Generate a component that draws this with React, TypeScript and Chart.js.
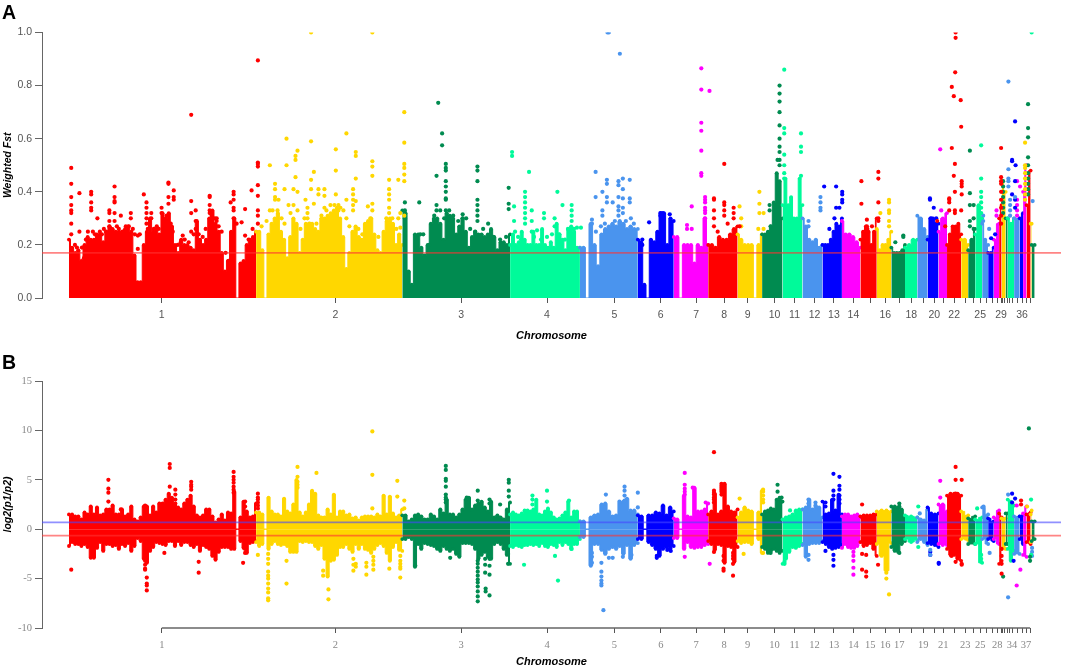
import { useEffect, useRef } from 'react';
import { Chart, registerables } from 'chart.js';

Chart.register(...registerables);

// chromosome limits along the genome axis (39 edges, 38 chromosomes)
const chromEdges = [0, 187.5, 334, 442, 512, 570, 606, 640.5, 670, 694.5, 715, 735, 755, 774.5, 793, 809.4, 824, 837.7, 850, 860.3, 871.3, 879.8, 894, 901, 908, 915, 921, 926.6, 932, 934.5, 938.6, 940.6, 947, 952.6, 956, 959.5, 963.6, 964.6, 967.6];
const tickPos = [93, 267, 393, 479, 546.5, 593, 628.5, 656.5, 680, 707, 727, 747, 766.5, 786, 803, 818, 832, 844, 856, 867, 876, 887, 898, 906, 913, 919, 925, 930, 934, 935, 937, 940, 942, 945, 950, 955, 959, 963];
const fstLabels = ['1', '2', '3', '4', '5', '6', '7', '8', '9', '10', '11', '12', '13', '14', '', '16', '', '18', '', '20', '', '22', '', '', '25', '', '', '', '29', '', '', '', '', '', '', '36', '', ''];
const logLabels = ['1', '2', '3', '4', '5', '6', '7', '8', '9', '10', '11', '12', '13', '14', '15', '16', '17', '', '19', '', '21', '', '23', '', '25', '', '', '28', '', '', '', '', '', '34', '', '', '37', ''];

const RED = '#ff0000';
const GOLD = '#ffd700';
const GREEN = '#008b50';
const AQUA = '#00fa9a';
const SKY = '#4a94ee';
const BLUE = '#0000ff';
const PINK = '#ff00ff';
const chromColors = [RED, GOLD, GREEN, AQUA, SKY, BLUE, PINK];

// dense mass of Weighted Fst, top edge of each chromosome
const fstTop = [
  [.22, .19, .17, .18, .14, .2, .23, .22, .22, .24, .24, .21, .25, .27, .26, .25, .25, .25, .26, .27, .25, .16, .06, .06, .2, .25, .3, .25, .26, .24, .32, .3, .32, .27, .2, .17, .22, .2, .2, .19, .18, .29, .22, .2, .22, .3, .33, .28, .25, .17, .1, .14, .25, .3, 0, .13, .14, .2, .22, .23, .25],
  [.25, .25, .18, 0, .24, .28, .3, .32, .25, .22, .15, .23, .3, .28, .17, .22, .28, .28, .28, .26, .25, .3, .3, .31, .32, .33, .34, .3, .23, .11, .17, .25, .27, .23, .22, .28, .29, .3, .24, .18, .17, .25, .29, .3, .28, .2, .24, .2],
  [.33, .32, .1, .05, .24, .24, .19, .16, .2, .28, .3, .3, .28, .22, .32, .31, .3, .24, .27, .3, .25, .19, .23, .25, .24, .24, .23, .24, .26, .23, .18, .21, .21, .2, .24],
  [.2, .24, .2, .21, .25, .22, .2, .2, .25, .2, .2, .26, .2, .19, .21, .19, .28, .24, .22, .18, .26, .27, .25, .19, .19],
  [.19, .19, 0, .28, .2, .12, .24, .26, .27, .28, .27, .29, .28, .26, .27, .26, .26],
  [.22, .21, .05, 0, .22, .21, .25, .32, .32, .2, .3, .29],
  [.23, .23, 0, .2, .2, .2, .13, .2, .19, .3, .2],
  [.2, .2, .19, .23, .22, .22, .24, .26, .27],
  [.24, .22, .2, .2, .2, 0, .2, .24],
  [.24, .24, .25, .27, .36, .47, .44, .3],
  [.35, .45, .35, .38, .3, .3, .45, .35],
  [.3, .27, .22, .21, .22, .19, .2],
  [.2, .2, .2, .22, .25, .28, .27, .3],
  [.29, .24, .24, .23, .21, .19],
  [.22, .25, .27, .25, .2, .25, .3],
  [.26, .18, .2, .2, .22, .25],
  [.19, .17, .17, .17, .18, .2],
  [.19, .2, .22, .22],
  [.31, .3, .26, .23],
  [.22, .3, .3, .28, .28],
  [.25, .3, .32],
  [.2, .24, .27, .27, .28, .24],
  [.22, .22, .2],
  [.18, .22, .26],
  [.24, .35, .3],
  [.28, .22, .2],
  [.17, .17, .19],
  [.22, .28],
  [.3, .35],
  [.44, .4],
  [.3, .3],
  [.3, .28, .3],
  [.3, .3],
  [.3, .32],
  [.4, .5],
  [.35, .48],
  [.28, .28],
  [.2, .2],
];

// isolated Fst dots, [position, values at that position], one list per colour
const fstRed: [number, number[]][] = [
  [2.3, [.49, .43, .38, .35, .33, .32, .28, .24]], [10.5, [.395, .25]], [22.3, [.4, .39, .36, .34, .33]], [28.5, [.3]], [40.5, [.33, .32, .29, .27]],
  [45.7, [.42, .38, .365, .36, .32, .29]], [52, [.31]], [62, [.32, .3]], [69, [.235, .185]], [75, [.39]], [77.7, [.36, .34, .32, .3, .28]],
  [82.5, [.32, .3]], [92.8, [.34, .32]], [99.7, [.435, .43, .38, .355]], [105, [.38, .37, .405]], [114, [.235]], [122.5, [.69, .365, .32, .25]],
  [127, [.33, .29, .26]], [141, [.385, .38, .35, .33, .32]], [148, [.3, .29]], [162, [.36]], [165, [.4, .39, .37, .34, .33, .3]], [173, [.285]],
  [176.5, [.335, .235]], [183, [.405]], [189.3, [.895, .51, .505, .495, .425, .385, .33, .31, .28]],
  [646.3, [.375, .37, .33, .3, .27]], [656.6, [.505, .36, .35, .33, .31]], [666, [.34, .32, .3]], [794, [.44, .355]], [799.5, [.295, .27]],
  [804.6, [.27]], [811, [.475, .45, .36, .3, .29]], [888.4, [1, .98]], [888, [.85]], [884.6, [.795, .565]], [886.6, [.76, .46]], [893.5, [.745]],
  [894, [.645, .33]], [887.7, [.505, .4, .33, .32]], [894.5, [.44, .43, .42, .39]], [882, [.375, .37, .36, .33]], [878, [.27]],
  [934, [.565, .455, .44, .43, .4, .37, .34, .31, .28]],
  // rough scatter just above the solid mass
  [6, [.2]], [8, [.19]], [13, [.19]], [15, [.15]], [17, [.22]], [19, [.25]], [24, [.25]], [26, [.24]], [29, [.22]], [31, [.25]], [33, [.24]], [35, [.26]], [37, [.25]], [42, [.26]],
  [48, [.27]], [50, [.26]], [54, [.25]], [57, [.27]], [60, [.27]], [64, [.26]], [66, [.24]], [71, [.24]], [79, [.26]], [83, [.24]], [85, [.26]], [88, [.27]], [90, [.26]], [95, [.29]],
  [98, [.31]], [102, [.28]], [104, [.25]], [109, [.2]], [112, [.21]], [116, [.22]], [120, [.21]], [125, [.24]], [130, [.24]], [134, [.23]], [137, [.26]], [143, [.31]], [146, [.3]],
  [150, [.27]], [153, [.25]], [157, [.17]], [160, [.14]], [168, [.28]], [180, [.22]], [184, [.26]], [650, [.25]], [660, [.28]], [672, [.27]], [800, [.26]], [870, [.29]],
];
const fstGold: [number, number[]][] = [
  [201.3, [.5, .33]], [206.5, [.43, .41, .38, .37]], [210, [.37]], [216, [.41, .28]], [218, [.6, .5]], [220, [.35]], [227, [.52, .535, .455]], [229, [.555, .4, .33]],
  [225, [.41, .35]], [237, [.37]], [239, [.34, .32, .3]], [242.6, [1, .59, .445, .41]], [245.4, [.475, .355]], [250, [.41, .39]], [256, [.41, .385, .34]],
  [267.4, [.56, .48, .39]], [270, [.35, .33]], [278, [.62, .37, .3]], [284.7, [.41, .39, .37, .35, .33]], [287.4, [.55, .535, .45, .365]], [299.5, [.345]],
  [304, [1, .515, .495, .46, .355, .33]], [320.8, [.445, .41, .39, .37, .34, .32]], [330, [.445, .3]], [332, [.32, .265]], [336, [.7, .585, .505, .49, .465, .44, .31]],
  [671.9, [.345]], [673.6, [.3, .27]], [691.8, [.4, .355, .32]], [696, [.32, .26]], [690.7, [.26]], [821.7, [.37, .36, .33, .32, .29, .27]], [813, [.32]],
  [958, [.585, .5, .49, .47, .45, .43, .41, .39, .37]],
  [193, [.27]], [198, [.29]], [204, [.33]], [209, [.33]], [213, [.3]], [222, [.32]], [232, [.26]], [236, [.3]], [241, [.28]], [248, [.28]], [253, [.31]], [258, [.33]], [262, [.35]],
  [266, [.35]], [272, [.34]], [275, [.33]], [281, [.27]], [290, [.26]], [294, [.24]], [302, [.3]], [310, [.23]], [318, [.3]], [324, [.3]], [328, [.26]],
];
const fstGreen: [number, number[]][] = [
  [336.6, [.36, .33, .32, .3]], [351, [.36]], [368.3, [.46, .35, .33]], [370, [.735]], [373.9, [.62, .575]], [377.6, [.505, .49, .48, .44, .42, .4, .375, .37, .33]],
  [394.5, [.315, .3]], [409.3, [.495, .48, .44, .37, .35, .33, .31, .29]], [420, [.28]], [440.6, [.415, .355, .335]],
  [702, [.35, .33]], [703, [.27]], [712, [.8, .77, .74, .7, .65, .6, .57, .55, .52, .5]], [710, [.52]], [828, [.21]], [836, [.235, .23]],
  [902.7, [.555, .395, .35, .29, .27]], [906.5, [.35, .3, .26]], [936, [.44, .42, .4, .38, .36, .34, .32]], [961, [.73, .64, .605, .53, .5, .47, .45, .43, .41, .39]],
  [352, [.24]], [355, [.24]], [361, [.2]], [366, [.31]], [372, [.33]], [376, [.3]], [381, [.33]], [385, [.31]], [390, [.29]], [398, [.3]], [402, [.26]], [407, [.25]], [415, [.26]],
  [425, [.23]], [432, [.22]], [438, [.23]],
];
const fstAqua: [number, number[]][] = [
  [444, [.55, .535]], [446, [.345, .29]], [457, [.4, .38, .36, .34, .32, .3, .28]], [461, [.475]], [463.7, [.33, .29, .25]], [469, [.255]], [476, [.32, .3]],
  [486.6, [.3, .27]], [489.4, [.4]], [494.5, [.35]], [503.7, [.35, .33, .31, .29]], [509, [.265]], [513, [.265]],
  [716.7, [.86, .64, .62, .54, .5, .47, .45]], [733.5, [.62, .57, .55, .46]], [914, [.575, .45, .4, .38, .36, .34, .32, .3]], [964.6, [1]],
  [447, [.25]], [450, [.23]], [453, [.22]], [466, [.23]], [473, [.22]], [479, [.23]], [484, [.24]], [491, [.24]], [497, [.22]], [500, [.26]], [506, [.26]],
];
const fstSky: [number, number[]][] = [
  [524, [.295, .28]], [527.7, [.475, .38]], [534.5, [.4, .33, .31]], [539, [.445, .43, .38, .36]], [539.6, [1]], [541, [1]], [544.8, [.36]],
  [550.6, [.44, .425, .38, .345, .33, .31]], [552, [.92]], [555, [.45, .41, .375, .34, .32]], [561.9, [.445, .375, .36]], [563, [.3]],
  [741, [.29, .27]], [753, [.38, .36, .34, .33]], [916, [.31, .29]], [922, [.26]], [941.3, [.815, .485, .45, .44, .42]], [943, [.37, .35, .33, .31]],
  [948, [.38]], [965.6, [.365]],
  [528, [.25]], [533, [.27]], [537, [.28]], [547, [.29]], [558, [.29]], [566, [.28]],
];
const fstBlue: [number, number[]][] = [
  [574.5, [.22, .2]], [581.3, [.285]], [592.6, [.32, .31]], [595, [.32]], [602, [.315]], [756.7, [.42]], [768.7, [.42, .34]], [767, [.3]],
  [774.8, [.4, .39, .37, .36]], [772, [.34]], [761.9, [.26]], [862.7, [.375, .37]], [866.5, [.34]], [864, [.3]], [869, [.3]], [928, [.24]], [924, [.225]],
  [948, [.665, .44, .37, .34]], [945, [.52, .515, .39]], [948.5, [.5]],
];
const fstPink: [number, number[]][] = [
  [619.3, [.275, .26]], [624, [.345, .26]], [633.6, [.865, .785, .66, .63, .555, .47, .46]], [641.8, [.78]], [637.4, [.38, .37, .36, .34, .33, .32, .3]],
  [873, [.56]], [874, [.33]], [929.4, [.33, .31]], [950, [.44, .37, .35, .33, .31]], [953, [.42]],
];
const fstLine = 0.17;

// dense mass of log2(p1/p2), upper and lower edge of each chromosome
const logTop = [
  [1.5, 1.5, 1.3, 1.3, 1, 1.7, 1.5, 2.3, 1.5, 2.2, 1.4, 1.5, 2, 2, 2.4, 1.5, 1.5, 2, 1.3, 1.5, 2.3, 1, .8, 1.2, 2.3, 2.3, 1.4, 2.3, 1.7, 2.6, 2.6, 3, 3.6, 3.2, 2.5, 2.2, 2, 2.6, 3, 3.4, 2.3, 1.4, 1.2, 1.4, 2, 2, 1.3, .7, 1, 1.5, .9, 1.7, 1.6, 3.8, 0, 1.2, 2.8, 1.8, 1.2, 1.3, 2.6],
  [1.7, 1.7, 1.5, 0, 3.2, 1.8, 1.5, 1.5, 1.3, 3.1, 1.8, 1.6, 2.5, 5, 1.7, 1.3, 1.7, 2.5, 3.9, 3.6, 1.4, 1.2, 1.2, 2, 1.5, 3.5, 1.2, 1.8, 1.8, 1.4, 1.5, 1.1, 1.2, .9, 1.2, 1.3, 1.3, 1.3, 1.2, 1.5, 1.3, 3.4, 1.5, 3.3, 1.6, 1.2, 1.4, 2],
  [1.4, 1.4, .8, 1, 1.4, 1.5, 1.3, 1, 1, 1.5, 1.3, 1, 2, 1.6, 3, 1.5, 1.5, 1.2, 1.5, 2, 3, 3.2, 2, 2.4, 2.6, 2.8, 2.2, 1.8, 2.8, 1.2, 1.4, 1.2, 1, 2, 2.7],
  [1.5, 1.7, 1.5, 1.4, 1.6, 1.9, 1.9, 1.8, 2, 3, 1.5, 1.4, 1.8, 2.1, 1.7, 1.2, 1, 1.1, 1.4, 1.7, 2.8, 1.2, 1.8, 1.8, .8],
  [.8, .8, 0, 1.2, 1.4, 1.5, 2.5, 2.6, 1.8, 1.3, 1.4, 2.7, 2.8, 3.1, 1.9, 1.9, 1.5],
  [1.4, 1.3, 0, 1.4, 1.4, 1.7, 1.6, 2.4, 1.4, 2.2, 1.8],
  [1.1, 1, 0, 3.4, 1.3, 1.2, 4.2, 1.8, 1.8, 2, 2.6],
  [1.5, 1.8, 3.6, 1.5, 1.8, 4.6, 2.3, 1.8, 1.7, 2],
  [1.2, 1.7, 2.2, 1.9, 1.8, 0, 1.7, 3.9],
  [1.5, 1.8, 1.9, 2.1, 2, 3, 3.2, 2.8],
  [1, 1.2, 1.3, 1.5, 1.9, 2, 2],
  [2, 2.2, 3, 2, 2.3, 2.2, 1.2],
  [2.8, 1.5, 1.6, 3, 1.9, 3.5, 1.5],
  [1.3, 1.5, 1.5, 1.3, 1.4, 1.5, 1.2],
  [1.3, 1.4, 1.4, 1.4, 1.5, 1.5],
  [1.8, 1.9, 1.9, 1.8],
  [2.3, 2.3, 2.2, 2, 1.2],
  [1.4, 1.3, 1.2],
  [1.2, 1, .9, 2],
  [2.2, 1.6, 1.5, 1.6],
  [2.5, 2.5, 1.8],
  [3.4, 3.6, 3.6, 3.6, 3.4],
  [1.8, 1.4],
  [1.1, 1.3],
  [1, 1.2],
  [2.2, 1.5],
  [1.1, .8],
  [1.2, 1.9],
  [1.6, 1.2],
  [1.1, 1.1],
  [1.6, 1.6],
  [3, 2.8, 2.4],
  [1.3, 1.3],
  [1.3, 1.4],
  [1.6, 2.3],
  [1.5, 1.7],
  [1.5, 1.9],
  [.8, .8],
];
const logBottom = [
  [-1.7, -1.3, -1.5, -1.5, -1.7, -1.5, -1.8, -2.9, -2.9, -1.9, -1.3, -2.2, -1.5, -1.5, -1.7, -1.6, -2, -1.5, -1.7, -1.4, -2.2, -1.7, -.9, -1.2, -3, -3.4, -2.2, -1.8, -1.3, -1.4, -1.5, -1.6, -1.2, -1.2, -1.7, -1.2, -1.6, -1.3, -1.3, -1.6, -1.8, -1.5, -2.2, -1.6, -1.8, -2, -2.7, -3.1, -2.3, -1.8, -1.8, -1.8, -2, -2, 0, -1.2, -1.9, -2.4, -1.4, -1.3, -1.2],
  [-1.3, -1.7, -1.5, 0, -2, -1.5, -1.2, -1.5, -1.6, -1.5, -1.7, -2.3, -2.3, -2.3, -1.2, -1.3, -1.2, -1.3, -1.3, -1.7, -2, -1.6, -3, -4.8, -3.2, -3.1, -2.6, -1.8, -1.8, -1.5, -2, -2.3, -1.5, -2, -1.5, -2, -2.1, -2.4, -2, -1.6, -1.4, -1.7, -2.4, -3.2, -1.8, -1.3, -2.1, -2.2],
  [-1, -1, -.8, -1, -3.8, -1.5, -2, -1.4, -1.5, -1.6, -1.7, -2, -2.2, -1.7, -2, -2.2, -2, -2.5, -2.8, -1.4, -1.4, -1.4, -1.5, -2, -3, -2.6, -2.3, -2.8, -3, -1.5, -1.3, -1.5, -2, -2.6, -3.5],
  [-1.7, -1.8, -1.6, -1.7, -1.8, -1.6, -1.6, -1.5, -1.6, -1.5, -1.7, -1.4, -1.7, -1.8, -1.5, -1.6, -1.8, -1.3, -1.6, -1.3, -1.5, -2, -1.5, -1.5, -1],
  [-.8, -.8, 0, -3.7, -1.5, -1.5, -2.1, -2.5, -2, -1.8, -2, -1.7, -2.5, -1.6, -3, -1.6, -1.4],
  [-1, -1, 0, -1.3, -1.6, -2, -2.7, -2, -1.8, -2, -1.7],
  [-.9, -.9, 0, -2, -1.3, -1.8, -1.9, -1.8, -1.8, -1.6, -1.5],
  [-1.2, -1.5, -2.1, -1.5, -1.6, -3.4, -1.7, -1.8, -3.3, -1.8],
  [-1.2, -1.4, -1.3, -1.3, -1.5, 0, -1, -2.4],
  [-1.8, -2, -2.4, -2.2, -2, -2.2, -2.4, -2.2],
  [-3.5, -3, -2.3, -1.8, -1.9, -1.7, -1.5],
  [-1.6, -2.8, -1.5, -1.4, -1.4, -1.4, -1.2],
  [-1.3, -1.5, -1.8, -2, -1.9, -1.8, -1.6],
  [-1.9, -1.5, -1.8, -1.9, -1.9, -1.7, -1.3],
  [-1.3, -1.7, -1.6, -1.4, -2, -2.7],
  [-1.5, -2.7, -4.2, -1.4],
  [-1.8, -2.2, -2.3, -1.5, -1.2],
  [-1, -1.3, -1.1],
  [-1.3, -1, -1.3, -1.6],
  [-1.4, -1.5, -1.6, -1.8],
  [-1.5, -1.6, -1.6],
  [-2, -2.6, -2.6, -3, -3.2],
  [-1, -1.1],
  [-1.5, -1.5],
  [-1.5, -3.4],
  [-1, -1.5],
  [-1, -1.2],
  [-1, -1.5],
  [-3.5, -3.2],
  [-2, -2],
  [-1.5, -1.5],
  [-2, -3.2, -2.2],
  [-2.5, -2.5],
  [-1, -1.5],
  [-2.6, -2.8],
  [-1.3, -1.5],
  [-1.3, -1.2],
  [-1.2, -1],
];

// isolated log ratio dots
const logRed: [number, number[]][] = [
  [2.3, [-4.1]], [39.5, [5, 4.1, 3.7, 2.8]], [52, [2]], [76.3, [-2.8, -3.2, -3.6, -4, -4.1, 2.4]], [78, [-4.9, -5.5, -5.7, -6.2]], [95.6, [-2.4]], [101, [6.6, 6.2, 4.3]],
  [106.6, [4, 3.5, 3, 2.6]], [122.5, [4.8, 4.5, 4.3, 4]], [130, [-3.3, -4.4]], [165, [5.8, 5.3, 5, 4.7, 4.3, 4, 3.7]], [174.5, [-3.4]], [176.5, [2.8, 2.3, -2, -2.4]],
  [189.3, [3.6, 3.2, 3, 2.7, 2.4, 2.1]], [646.3, [7.8, 3.9, 3.7, 3.5, 3.2, 3, 2.7, -2.3]], [653.8, [4.6, 4.4, 4.2, 4, 3.8, 3.5]], [655.9, [-2.7, -3.2, -4, -4.2]],
  [665.4, [-4.7, -3.5, -3, -2.7, -2.4]], [888.4, [6.3, 5, 3.6, -3.3]], [894.5, [5, -3.5, -3.6]], [884.3, [-2.7]], [794.7, [2.5, -4.1, -2.5]], [798.8, [-4.3, -4.8, -2.6]],
  [810.7, [-3.6]], [934.5, [-4.5, -3.5, -2.7, -2]], [954, [2.9, 2.5]],
];
const logGold: [number, number[]][] = [
  [229, [6.3, 5.3, 4.8, 4.5, 4.2]], [248, [5.7]], [304, [9.9, 5.5, 2.1]], [329, [4.9, 3.3]], [332, [-2.7, -3.2, -3.5, -3.8, -4, -4.9]], [336, [2.9, 2.1]],
  [199.6, [-2.5, -3, -3.5, -4.3, -4.7, -5, -5.5, -6, -6.4, -7, -7.2]], [189.3, [-2.6]], [218, [-3.2, -5.5]], [254.7, [-4.2, -4.7]], [260, [-6.1, -7.1]], [285, [-3, -3.6, -4.2]],
  [287.4, [-3.5, -3.8]], [298, [-3.4, -3.8, -4.6]], [305, [-2.8, -3.2, -3.6, -4.1]], [321, [-4]], [672, [3.1]], [676, [-2.5]], [695.5, [4, 3.8, 3.4, 3, 2.7, -2.4]],
  [821.7, [-6.6]], [819, [-5, -4.4, -3.9, -3.5]], [960, [2.3]],
];
const logGreen: [number, number[]][] = [
  [377.6, [6.4, 6, 5.1, 4.9, 4.3, 3.5, 3.2, 3, 2.7]], [409.6, [-7.3, -6.8, -6.3, -5.8, -5.4, -5.1, -4.7, -4.3, -3.9, -3.5, -3.2, 3.9, 2.9]], [417, [-3, -3.6, -4.4]],
  [421.4, [-6.7, -4.6, -3.7, -3, 3, 2.6]], [417.5, [-6.3, -6]], [440.7, [5, 4.7, 3.9, 3.3]], [347, [-3.7]], [382, [-2.9]], [398.6, [3.2]], [432, [2.5]], [440, [-2.5, -3.5]],
  [710, [4.5, 3.8]], [714, [3.2, 2.8]], [703, [-2.4]], [832, [2.6, 2.3, -2.4]], [961.8, [10.2]], [963, [-3.2, -2.8]], [936, [-4.8]],
];
const logAqua: [number, number[]][] = [
  [464.4, [3.4, 3, 2.5]], [456, [-3.6]], [479, [3.9, 2.8]], [487, [-2.7]], [490, [-5.2]], [501, [2.9]], [503.7, [-2]], [717, [-3.5, -3.3]], [722.5, [1.9]], [851, [2.3, -1.8]],
  [914, [-2.6, -3, -3.3]], [910, [2.1]], [964, [3, -2.6]],
];
const logSky: [number, number[]][] = [
  [524, [-3.4, -2.8, -2.4]], [538, [3.5]], [556.7, [4.3, 3.9, 3.4, 2.9]], [551.6, [2.8]], [570, [3.7, 2.2]], [533.5, [-3.4, -4.3, -4.8, -5.2, -5.5, -5.7]], [535.5, [-8.2]],
  [541, [-2.9]], [544.8, [-2.9]], [555, [-2.8]], [563.6, [-2.6]], [741, [3, 2.6, -3.1, -2.6]], [748, [2.7, 2.4]], [852.5, [1.6]], [941, [-6.9, 3.5]], [922.5, [-2.4]], [916.4, [2.3]],
  [965, [-1.9, -2.3, -2.7]], [863, [-2.1, -2.6]],
];
const logBlue: [number, number[]][] = [
  [589, [-2.7, -2.9]], [599.5, [-2.1]], [603, [-2.2]], [766, [5.6, 3.9, 3.4, 3, -2.6, -3.1, -3.7]], [772, [5.3, 4.4, 4, 3.4, 3, 2.6]], [758, [2.7, 2.3, -2.2]], [871.5, [-3.4, -3.5]],
  [863, [-2.3, -2.6]], [945, [3.6, 2.7]], [948, [3.1]], [946.5, [-3.2]],
];
const logPink: [number, number[]][] = [
  [617, [5.7, 4.5, 4.1, 3.8, 3.5, -2.8]], [625, [4.2]], [638, [2.7]], [642, [-3.5]], [786, [-2.3, -2.7, -3.2, -3.9, -4.6]], [873, [4.9, 3.2]], [949.6, [-5.7, 2.4]], [953.3, [-4.1]],
];
const logUpperLine = 0.7;
const logLowerLine = -0.65;

const xMin = -27;
const xMax = 994;

// spread one chromosome's edge values evenly across its span
function massDataset(values: number[], chr: number, radius: number) {
  const start = chromEdges[chr];
  const end = chromEdges[chr + 1];
  const color = chromColors[chr % chromColors.length];
  return {
    type: 'line' as const,
    data: values.map((v, i) => ({ x: start + ((end - start) * i) / (values.length - 1), y: v })),
    borderColor: color,
    backgroundColor: color,
    borderWidth: 1,
    stepped: 'middle' as const,
    fill: 'origin',
    pointRadius: values.map(v => (v === 0 ? 0 : radius)),
    pointBorderWidth: 0,
    order: 200 - chr,
  };
}

function dotDatasets(groups: [number, number[]][][], radius: number) {
  return groups.map((group, i) => ({
    type: 'scatter' as const,
    data: group.flatMap(([x, ys]) => ys.map(y => ({ x, y }))),
    backgroundColor: chromColors[i],
    borderColor: chromColors[i],
    pointRadius: radius,
    pointBorderWidth: 0,
    showLine: false,
    order: 20 + i,
  }));
}

function hLine(y: number, color: string) {
  return {
    type: 'line' as const,
    data: [{ x: xMin, y }, { x: xMax, y }],
    borderColor: color,
    borderWidth: 1.8,
    pointRadius: 0,
    fill: false,
    order: 1,
  };
}

function buildOptions(cfg: {
  yMin: number; yMax: number; step: number; yTitle: string; yDecimals: number;
  labels: string[]; topPad: number; xHeight: number; tickFont: any; tickColor: string;
  labelPad: number; titleBottom: number; titleFont: any;
}) {
  return {
    responsive: false,
    animation: false as const,
    devicePixelRatio: 1,
    events: [],
    layout: { padding: { top: cfg.topPad, right: 2, left: 0, bottom: 0 } },
    plugins: { legend: { display: false }, tooltip: { enabled: false } },
    scales: {
      x: {
        type: 'linear' as const,
        min: xMin,
        max: xMax,
        afterBuildTicks: (s: any) => { s.ticks = tickPos.map(value => ({ value })); },
        afterFit: (s: any) => { s.height = cfg.xHeight; },
        border: { display: false },
        grid: { drawOnChartArea: false, drawTicks: true, tickLength: 5, color: '#555' },
        ticks: {
          autoSkip: false,
          maxRotation: 0,
          padding: cfg.labelPad,
          color: cfg.tickColor,
          font: cfg.tickFont,
          callback: (_v: any, i: number) => cfg.labels[i],
        },
        title: {
          display: true,
          text: 'Chromosome',
          color: '#000',
          font: cfg.titleFont,
          padding: { top: 0, bottom: cfg.titleBottom },
        },
      },
      y: {
        min: cfg.yMin,
        max: cfg.yMax,
        afterFit: (s: any) => { s.width = 42; },
        border: { display: true, color: '#666', width: 1 },
        grid: { drawOnChartArea: false, drawTicks: true, tickLength: 7, color: '#666' },
        ticks: {
          stepSize: cfg.step,
          padding: 3,
          color: cfg.tickColor,
          font: cfg.tickFont,
          callback: (v: any) => Number(v).toFixed(cfg.yDecimals),
        },
        title: {
          display: true,
          text: cfg.yTitle,
          color: '#000',
          font: { family: 'Liberation Sans', size: 10.5, weight: 'bold' as const, style: 'italic' as const },
          padding: { top: 2, bottom: 0 },
        },
      },
    },
  };
}

export default function App() {
  const fstRef = useRef<HTMLCanvasElement>(null);
  const logRef = useRef<HTMLCanvasElement>(null);

  useEffect(() => {
    if (!fstRef.current || !logRef.current) return;
    document.body.style.margin = '0';

    const fstChart = new Chart(fstRef.current, {
      type: 'scatter',
      data: {
        datasets: [
          hLine(fstLine, 'rgba(255, 50, 50, 0.6)'),
          ...dotDatasets([fstRed, fstGold, fstGreen, fstAqua, fstSky, fstBlue, fstPink], 2.1),
          ...fstTop.map((values, chr) => massDataset(values, chr, 1.9)),
        ] as any,
      },
      options: buildOptions({
        yMin: 0, yMax: 1, step: 0.2, yTitle: 'Weighted Fst', yDecimals: 1, labels: fstLabels,
        topPad: 32.5, xHeight: 47, tickFont: { family: 'Liberation Sans', size: 10.5 }, tickColor: '#555',
        labelPad: 6, titleBottom: 2, titleFont: { family: 'Liberation Sans', size: 11, weight: 'bold', style: 'italic' },
      }) as any,
    });

    const logChart = new Chart(logRef.current, {
      type: 'scatter',
      data: {
        datasets: [
          hLine(logUpperLine, 'rgba(70, 70, 255, 0.6)'),
          hLine(logLowerLine, 'rgba(255, 50, 50, 0.6)'),
          {
            type: 'line',
            data: [{ x: tickPos[0], y: -10 }, { x: tickPos[tickPos.length - 1], y: -10 }],
            borderColor: '#666',
            borderWidth: 1.5,
            pointRadius: 0,
            clip: false,
            order: 0,
          },
          ...dotDatasets([logRed, logGold, logGreen, logAqua, logSky, logBlue, logPink], 2.1),
          ...logTop.map((values, chr) => massDataset(values, chr, 1.9)),
          ...logBottom.map((values, chr) => massDataset(values, chr, 1.9)),
        ] as any,
      },
      options: buildOptions({
        yMin: -10, yMax: 15, step: 5, yTitle: 'log2(p1/p2)', yDecimals: 0, labels: logLabels,
        topPad: 36, xHeight: 41, tickFont: { family: 'Liberation Serif', size: 10.5 }, tickColor: '#888',
        labelPad: 6, titleBottom: 0, titleFont: { family: 'Liberation Sans', size: 11, weight: 'bold', style: 'italic' },
      }) as any,
    });

    return () => {
      fstChart.destroy();
      logChart.destroy();
    };
  }, []);

  const letter = { position: 'absolute' as const, left: 2, fontFamily: 'Liberation Sans', fontWeight: 700, fontSize: 19.5, color: '#000', lineHeight: '21px' };

  return (
    <div style={{ position: 'absolute', left: 0, top: 0, width: 1065, height: 669, overflow: 'hidden', background: '#fff' }}>
      <canvas ref={fstRef} width={1065} height={345} style={{ position: 'absolute', left: 0, top: 0 }} />
      <canvas ref={logRef} width={1065} height={324} style={{ position: 'absolute', left: 0, top: 345 }} />
      <div style={{ ...letter, top: 1.5 }}>A</div>
      <div style={{ ...letter, top: 351.5 }}>B</div>
    </div>
  );
}
